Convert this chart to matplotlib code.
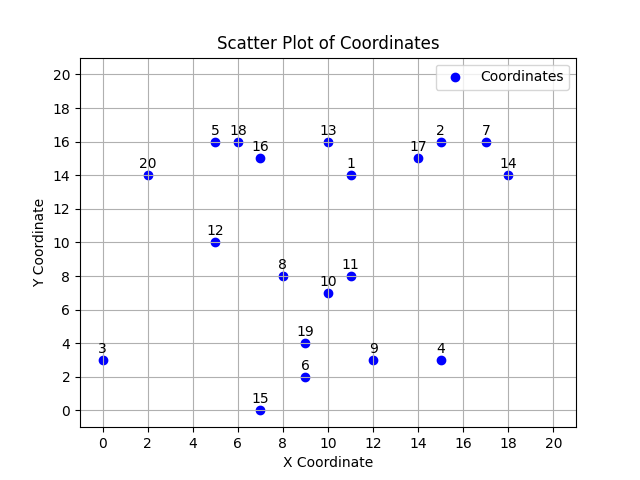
import matplotlib
matplotlib.use("Agg")
import matplotlib.pyplot as plt

labels = [str(i) for i in range(1, 21)]
xs = [11, 15, 0, 15, 5, 9, 17, 8, 12, 10, 11, 5, 10, 18, 7, 7, 14, 6, 9, 2]
ys = [14, 16, 3, 3, 16, 2, 16, 8, 3, 7, 8, 10, 16, 14, 0, 15, 15, 16, 4, 14]

fig, ax = plt.subplots(figsize=(6.4, 4.8), dpi=100)
ax.scatter(xs, ys, color='blue', label='Coordinates')
for lab, x, y in zip(labels, xs, ys):
    ax.annotate(lab, (x, y), textcoords='offset points', xytext=(0, 5), ha='center')
ax.set_xlim(-1, 21)
ax.set_ylim(-1, 21)
ax.set_xticks(range(0, 21, 2))
ax.set_yticks(range(0, 21, 2))
ax.set_title('Scatter Plot of Coordinates')
ax.set_xlabel('X Coordinate')
ax.set_ylabel('Y Coordinate')
ax.grid(True)
ax.legend(loc='upper right')
fig.savefig('out.png')
